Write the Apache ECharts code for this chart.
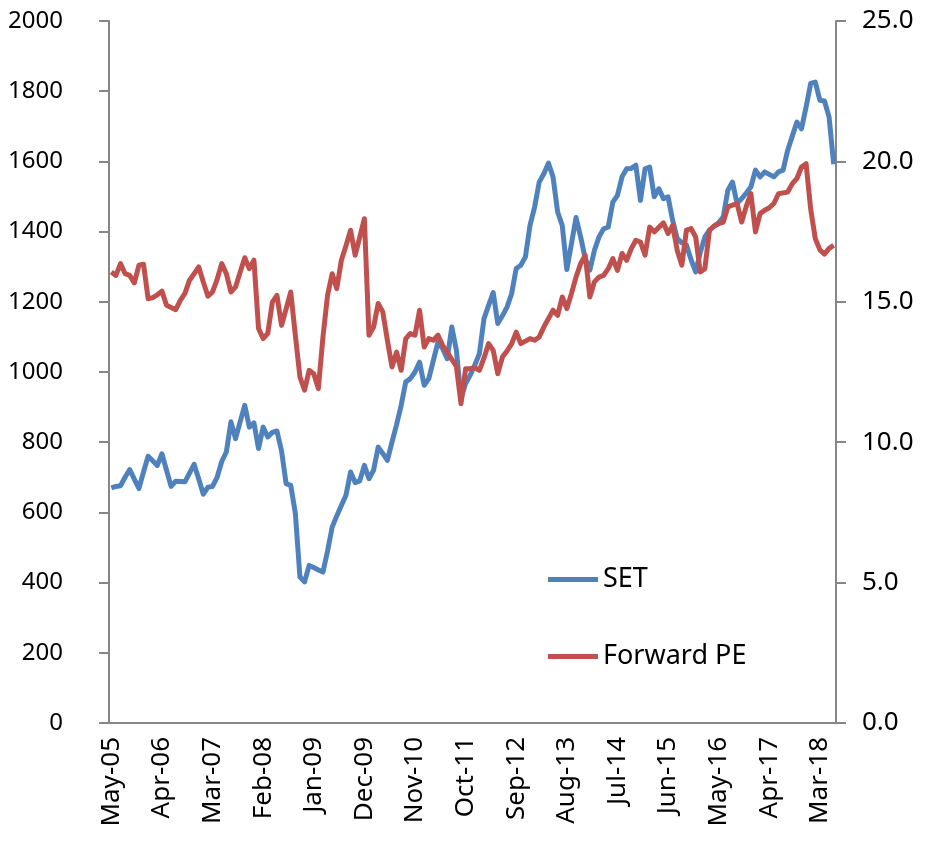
<!DOCTYPE html>
<html>
<head>
<meta charset="utf-8">
<script src="https://cdn.jsdelivr.net/npm/echarts@6/dist/echarts.min.js"></script>
<style>
html, body { margin: 0; padding: 0; background: #fff; }
#main { width: 926px; height: 843px; }
</style>
</head>
<body>
<div id="main"></div>
<script>
// monthly, May-05 .. Jun-18
const monthNames = ['Jan','Feb','Mar','Apr','May','Jun','Jul','Aug','Sep','Oct','Nov','Dec'];
const startYear = 2005, startMonth = 4, monthCount = 158;

const setValues = [
  670, 674, 676, 700, 722, 695, 668, 715, 760, 747,
  734, 767, 720, 674, 689, 688, 687, 712, 737, 695,
  652, 672, 674, 700, 745, 772, 858, 810, 858, 905,
  843, 855, 782, 843, 815, 828, 832, 775, 682, 677,
  597, 416, 402, 449, 443, 436, 430, 490, 558, 590,
  620, 649, 715, 685, 690, 734, 696, 720, 786, 768,
  748, 800, 850, 905, 972, 981, 1000, 1028, 962, 981,
  1033, 1085, 1067, 1038, 1128, 1062, 925, 967, 991, 1020,
  1052, 1152, 1190, 1226, 1138, 1160, 1185, 1223, 1295, 1304,
  1328, 1418, 1470, 1541, 1565, 1595, 1556, 1456, 1418, 1292,
  1365, 1440, 1385, 1323, 1290, 1347, 1385, 1408, 1413, 1484,
  1503, 1556, 1579, 1580, 1589, 1489, 1579, 1584, 1499, 1522,
  1494, 1499, 1432, 1380, 1368, 1362, 1320, 1285, 1340, 1385,
  1404, 1415, 1425, 1442, 1518, 1541, 1480, 1494, 1510, 1527,
  1575, 1556, 1570, 1563, 1556, 1570, 1575, 1632, 1672, 1712,
  1693, 1755, 1822, 1826, 1774, 1772, 1726, 1592
];

const peValues = [
  16.06, 15.94, 16.36, 16.00, 15.94, 15.67, 16.30, 16.34, 15.11, 15.15,
  15.25, 15.38, 14.88, 14.80, 14.72, 15.05, 15.30, 15.77, 16.00, 16.24,
  15.70, 15.20, 15.35, 15.80, 16.36, 16.00, 15.35, 15.53, 16.05, 16.57,
  16.18, 16.48, 14.05, 13.69, 13.87, 14.99, 15.23, 14.16, 14.75, 15.35,
  13.80, 12.32, 11.85, 12.56, 12.44, 11.91, 13.75, 15.23, 16.00, 15.47,
  16.48, 17.00, 17.55, 16.66, 17.30, 17.96, 13.81, 14.10, 14.94, 14.64,
  13.63, 12.68, 13.21, 12.56, 13.69, 13.87, 13.81, 14.70, 13.39, 13.69,
  13.63, 13.81, 13.45, 13.21, 12.95, 12.70, 11.37, 12.62, 12.62, 12.65,
  12.56, 13.00, 13.51, 13.27, 12.44, 13.03, 13.25, 13.50, 13.92, 13.51,
  13.60, 13.69, 13.63, 13.75, 14.10, 14.40, 14.70, 14.52, 15.17, 14.76,
  15.29, 15.88, 16.36, 16.66, 15.17, 15.71, 15.88, 15.94, 16.18, 16.54,
  16.12, 16.72, 16.48, 16.89, 17.19, 17.13, 16.66, 17.66, 17.49, 17.65,
  17.81, 17.43, 17.72, 16.83, 16.30, 17.55, 17.61, 17.31, 16.06, 16.18,
  17.55, 17.70, 17.78, 17.84, 18.38, 18.44, 18.50, 17.84, 18.40, 18.85,
  17.49, 18.14, 18.26, 18.35, 18.50, 18.85, 18.88, 18.91, 19.21, 19.39,
  19.80, 19.92, 18.30, 17.25, 16.85, 16.70, 16.90, 17.01
];

let categories = [];
for (let i = 0; i < monthCount; i++) {
  let m = startMonth + i;
  let y = startYear + Math.floor(m / 12);
  categories.push(monthNames[m % 12] + '-' + String(y % 100).padStart(2, '0'));
}

const axisGray = '#868686';
const fontFamily = '"Noto Sans", sans-serif';

let option = {
  animation: false,
  backgroundColor: '#ffffff',
  grid: { left: 109, right: 90, top: 21, bottom: 120, containLabel: false },
  legend: {
    orient: 'vertical',
    left: 543,
    top: 561,
    icon: 'rect',
    itemWidth: 50,
    itemHeight: 5,
    itemGap: 50,
    textStyle: { fontFamily: fontFamily, fontSize: 27, color: '#000' },
    data: ['SET', 'Forward PE']
  },
  xAxis: {
    type: 'category',
    data: categories,
    boundaryGap: true,
    axisLine: { lineStyle: { color: axisGray, width: 2 } },
    axisTick: { interval: 10, length: 9, lineStyle: { color: axisGray, width: 2 } },
    axisLabel: { interval: 10, rotate: 90, margin: 14, fontFamily: fontFamily, fontSize: 26, color: '#000' },
    splitLine: { show: false }
  },
  yAxis: [
    {
      type: 'value',
      min: 0, max: 2000, interval: 200,
      axisLine: { show: true, lineStyle: { color: axisGray, width: 2 } },
      axisTick: { show: true, length: 10, lineStyle: { color: axisGray, width: 2 } },
      axisLabel: { margin: 46, fontFamily: fontFamily, fontSize: 24, color: '#000',
        formatter: v => String(v) },
      splitLine: { show: false }
    },
    {
      type: 'value',
      min: 0, max: 25, interval: 5,
      axisLine: { show: true, lineStyle: { color: axisGray, width: 2 } },
      axisTick: { show: true, length: 10, lineStyle: { color: axisGray, width: 2 } },
      axisLabel: { margin: 26, fontFamily: fontFamily, fontSize: 26, color: '#000',
        formatter: v => v.toFixed(1) },
      splitLine: { show: false }
    }
  ],
  series: [
    {
      name: 'SET', type: 'line', yAxisIndex: 0, data: setValues,
      symbol: 'none', color: '#4F81BD',
      lineStyle: { width: 5, color: '#4F81BD', join: 'round' }
    },
    {
      name: 'Forward PE', type: 'line', yAxisIndex: 1, data: peValues,
      symbol: 'none', color: '#C0504D',
      lineStyle: { width: 5, color: '#C0504D', join: 'round' }
    }
  ]
};

let myChart = echarts.init(document.getElementById('main'), null, { renderer: 'canvas' });
myChart.setOption(option);
</script>
</body>
</html>
